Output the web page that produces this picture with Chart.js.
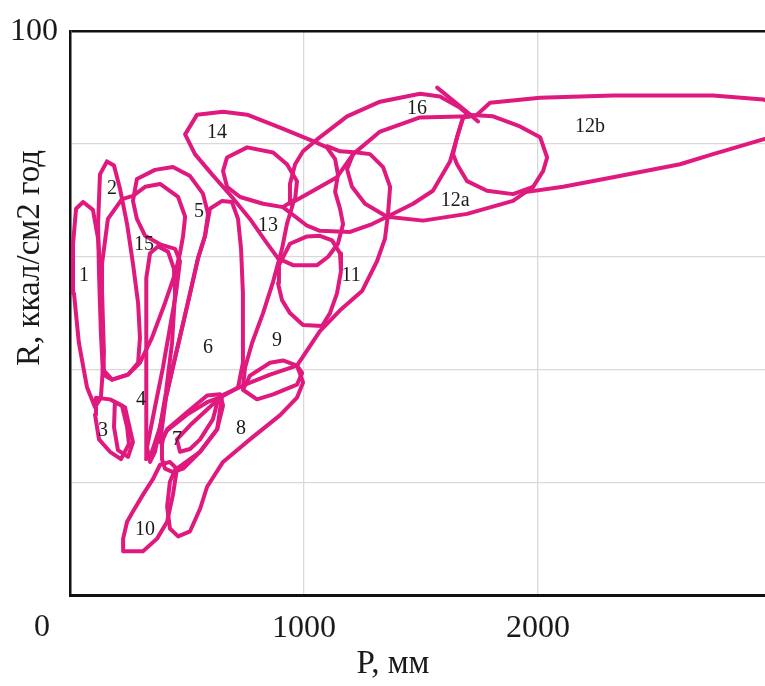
<!DOCTYPE html>
<html>
<head>
<meta charset="utf-8">
<script src="https://cdn.jsdelivr.net/npm/chart.js@4.4.1/dist/chart.umd.min.js"></script>
<style>
  html, body { margin: 0; padding: 0; background: #ffffff; overflow: hidden; }
  #wrap { width: 765px; height: 686px; }
</style>
</head>
<body>
<div id="wrap"><canvas id="c" width="765" height="686"></canvas></div>
<script>
// ---------------- DATA (P in mm, R in kcal/cm2 per year) ----------------
const xTicks = [1000, 2000];
const yTicks = [100];

const shape1P = [56, 98, 120, 137, 145, 132, 107, 73, 38, 17, 13, 26];
const shape1R = [69.7, 68.3, 63.2, 53.5, 43.0, 35.0, 33.3, 36.8, 44.7, 53.5, 62.3, 68.5];

const shape2P = [158, 188, 214, 244, 269, 291, 299, 291, 248, 180, 141, 132, 124, 120, 128];
const shape2R = [76.9, 76.2, 72.0, 65.8, 58.8, 51.8, 45.6, 41.2, 39.1, 38.2, 39.1, 46.5, 57.0, 65.8, 74.6];

const shape3P = [111, 171, 222, 244, 252, 218, 171, 124, 107];
const shape3R = [35.0, 34.7, 33.6, 29.8, 26.8, 24.1, 25.4, 27.6, 32.0];
const shape3bP = [192, 235, 269, 248, 205, 188];
const shape3bR = [34.2, 33.3, 27.1, 24.5, 25.7, 29.8];

const shape4P = [376, 419, 444, 449, 436, 410, 385, 350, 325, 325, 325, 325, 329, 342];
const shape4R = [61.8, 60.9, 57.9, 53.5, 44.7, 35.9, 29.8, 25.4, 24.1, 27.1, 35.9, 46.5, 56.2, 60.6];

const shape5P = [286, 363, 440, 513, 568, 590, 577, 547, 513, 479, 444, 410, 385, 363, 342, 329, 363, 397, 427, 453, 470, 449, 385, 321, 286, 269];
const shape5R = [73.8, 75.4, 75.9, 74.3, 71.2, 67.6, 63.7, 59.7, 53.5, 47.4, 41.2, 35.0, 29.8, 25.4, 23.6, 26.2, 33.3, 40.3, 47.4, 53.5, 59.2, 61.4, 62.2, 63.7, 66.7, 69.9];

const shape6P = [598, 650, 692, 718, 731, 739, 739, 718, 650, 586, 500, 415, 385, 410, 444, 479, 513, 547, 577];
const shape6R = [68.5, 69.9, 69.7, 66.7, 61.4, 53.5, 41.2, 36.8, 35.2, 34.2, 32.0, 29.2, 27.1, 35.0, 41.2, 47.4, 53.5, 59.7, 63.7];

const shape7P = [397, 415, 500, 586, 641, 654, 629, 556, 483, 440, 406, 393, 393];
const shape7R = [27.6, 29.4, 32.4, 35.4, 35.6, 33.6, 29.4, 25.4, 22.4, 21.8, 22.4, 24.1, 26.6];
const shape7bP = [457, 513, 586, 633, 611, 556, 513, 470];
const shape7bR = [27.6, 30.1, 32.9, 34.7, 31.2, 27.6, 25.9, 25.4];

const shape8P = [970, 996, 970, 898, 769, 654, 586, 556, 513, 462, 427, 415, 427, 449, 556, 629, 650, 748, 855];
const shape8R = [40.7, 37.7, 35.0, 31.9, 27.6, 23.6, 19.2, 15.3, 11.3, 10.4, 11.8, 15.7, 20.1, 22.2, 25.4, 29.4, 35.4, 37.3, 39.1];

const shape9P = [739, 799, 868, 970, 992, 970, 910, 855, 769];
const shape9R = [36.4, 34.7, 35.6, 37.3, 39.4, 40.7, 41.6, 41.2, 38.9];
const edge9P = [953, 927, 906, 868, 825, 778, 748, 739];
const edge9R = [69.4, 65.8, 61.4, 55.6, 50.0, 44.7, 40.3, 36.8];

const shape10P = [227, 227, 244, 269, 312, 355, 385, 427, 457, 440, 415, 372, 312];
const shape10R = [7.75, 10.0, 13.0, 14.8, 17.8, 20.6, 23.1, 23.6, 22.4, 17.8, 13.0, 10.0, 7.75];

const shape11P = [940, 1013, 1068, 1120, 1154, 1158, 1141, 1111, 1077, 996, 940, 906, 889, 893];
const shape11R = [62.3, 63.6, 63.7, 62.9, 60.6, 57.4, 53.5, 50.0, 47.7, 47.9, 50.0, 52.3, 55.3, 58.5];
const edge11P = [970, 1068, 1154, 1248, 1312, 1346, 1359, 1368, 1338, 1282, 1227, 1154, 1098];
const edge11R = [40.7, 46.8, 50.5, 53.9, 59.2, 63.2, 67.6, 72.4, 75.9, 78.2, 78.5, 78.7, 79.6];

const arc12aP = [1210, 1184, 1205, 1261, 1355];
const arc12aR = [78.2, 75.5, 72.4, 69.4, 67.1];
const edge12aP = [1355, 1466, 1551, 1624, 1654, 1680, 1710];
const edge12aR = [67.1, 69.4, 71.7, 76.9, 81.2, 84.7, 84.9];
const base12aP = [1355, 1509, 1697, 1893, 1979];
const base12aR = [67.1, 66.4, 67.6, 69.9, 72.4];
const ring12P = [1697, 1808, 1923, 2009, 2039, 2022, 1979, 1893, 1782, 1697, 1654, 1637, 1654, 1680];
const ring12R = [85.2, 84.9, 83.1, 81.2, 77.6, 75.2, 72.4, 71.1, 71.7, 73.4, 76.4, 78.2, 81.2, 84.7];
const shape12bP = [1739, 1795, 2009, 2321, 2748, 2962, 3120, 3120, 2962, 2748, 2607, 2321, 2107, 1953];
const shape12bR = [85.2, 87.3, 88.2, 88.6, 88.6, 87.9, 85.6, 83.1, 80.8, 78.2, 76.4, 74.1, 72.4, 71.5];

const shape13P = [654, 671, 757, 868, 927, 970, 962, 910, 825, 727, 671];
const shape13R = [75.2, 77.6, 79.4, 78.5, 76.4, 73.4, 70.2, 68.8, 69.4, 70.6, 72.4];
const link13P = [910, 1013, 1068, 1197, 1291, 1355];
const link13R = [68.8, 65.5, 64.6, 64.4, 65.8, 67.1];

const shape14P = [492, 543, 654, 757, 898, 1039, 1098, 1133, 1145, 1133, 1154, 1167, 1145, 1103, 1056, 953, 889, 833, 769, 692, 607, 534];
const shape14R = [81.7, 85.2, 85.7, 85.2, 82.9, 80.5, 79.4, 77.3, 74.6, 71.5, 68.5, 65.8, 62.3, 60.0, 58.5, 58.5, 59.7, 62.9, 66.7, 70.6, 74.6, 78.2];

const shape15P = [162, 222, 269, 321, 385, 462, 492, 483, 470, 449, 406, 350, 299, 248, 180, 145, 137, 137];
const shape15R = [66.7, 70.2, 70.8, 72.4, 72.9, 70.6, 67.1, 63.6, 60.6, 57.0, 51.8, 45.6, 41.2, 39.1, 38.2, 39.8, 48.2, 58.8];

const shape16P = [1710, 1667, 1581, 1496, 1325, 1184, 1056, 996, 962, 940, 940, 1039, 1141, 1210, 1325, 1496];
const shape16R = [84.9, 86.4, 88.4, 88.9, 87.5, 84.9, 80.8, 78.7, 76.4, 72.9, 69.4, 71.7, 74.1, 78.2, 82.2, 84.7];
const tail16P = [1569, 1710, 1744];
const tail16R = [90.0, 85.2, 84.0];

const labelText = ['1', '2', '3', '4', '5', '6', '7', '8', '9', '10', '11', '12a', '12b', '13', '14', '15', '16'];
const labelP = [60, 180, 141, 303, 551, 590, 457, 731, 885, 321, 1201, 1646, 2222, 846, 628, 316, 1483];
const labelR = [56.7, 72.0, 29.2, 34.7, 68.0, 43.8, 27.6, 29.4, 45.1, 11.6, 56.7, 69.9, 83.1, 65.5, 82.0, 62.1, 86.3];

// [P, R, closed]
const contours = [
  [shape1P, shape1R, true], [shape2P, shape2R, true], [shape3P, shape3R, true], [shape3bP, shape3bR, true],
  [shape4P, shape4R, true], [shape5P, shape5R, true], [shape6P, shape6R, true], [shape7P, shape7R, true],
  [shape7bP, shape7bR, true], [shape8P, shape8R, true], [shape9P, shape9R, true], [edge9P, edge9R, false],
  [shape10P, shape10R, true], [shape11P, shape11R, true], [edge11P, edge11R, false],
  [arc12aP, arc12aR, false], [edge12aP, edge12aR, false], [base12aP, base12aR, false],
  [ring12P, ring12R, true], [shape12bP, shape12bR, false],
  [shape13P, shape13R, true], [link13P, link13R, false], [shape14P, shape14R, true],
  [shape15P, shape15R, true], [shape16P, shape16R, true], [tail16P, tail16R, false]
];

// ---------------- CHART ----------------
const LINE = '#E0197F';
const SERIF = '"Liberation Serif", "Times New Roman", "DejaVu Serif", serif';

const datasets = contours.map(([P, R, closed]) => {
  const pts = P.map((p, i) => ({ x: p, y: R[i] }));
  if (closed) pts.push({ x: P[0], y: R[0] });
  return {
    data: pts, showLine: true, borderColor: LINE, backgroundColor: LINE,
    borderWidth: 4, pointRadius: 0, pointHoverRadius: 0, fill: false, tension: 0,
    borderJoinStyle: 'round', borderCapStyle: 'round'
  };
});

const textPlugin = {
  id: 'texts',
  afterDraw(chart) {
    const { ctx, scales } = chart;
    ctx.save();
    ctx.fillStyle = '#1a1a1a';
    ctx.textAlign = 'center';
    ctx.textBaseline = 'middle';
    ctx.font = '20px ' + SERIF;
    labelText.forEach((t, i) => {
      ctx.fillText(t, scales.x.getPixelForValue(labelP[i]), scales.y.getPixelForValue(labelR[i]));
    });
    ctx.font = '32px ' + SERIF;
    ctx.fillText('0', 42, 628);
    ctx.font = '33px ' + SERIF;
    ctx.fillText('P, мм', 393, 664);
    ctx.translate(30, 258);
    ctx.rotate(-Math.PI / 2);
    ctx.fillText('R, ккал/см2 год', 0, 0);
    ctx.restore();
  }
};

new Chart(document.getElementById('c'), {
  type: 'scatter',
  data: { datasets },
  plugins: [textPlugin],
  options: {
    responsive: false,
    animation: false,
    devicePixelRatio: 1,
    layout: { padding: { top: 26, right: 0, left: 0, bottom: 0 } },
    plugins: { legend: { display: false }, tooltip: { enabled: false } },
    scales: {
      x: {
        type: 'linear', min: 0, max: 2970,
        afterFit: s => { s.height = 91; },
        afterBuildTicks: s => { s.ticks = [0].concat(xTicks).map(v => ({ value: v })); },
        ticks: {
          callback: v => (xTicks.includes(v) ? String(v) : ''),
          font: { family: SERIF, size: 32 }, color: '#1a1a1a', padding: 14,
          maxRotation: 0, autoSkip: false
        },
        grid: {
          color: c => (c.tick && c.tick.value === 0 ? 'rgba(0,0,0,0)' : '#d9d9d9'),
          lineWidth: 1.3, drawTicks: false
        },
        border: { color: '#111111', width: 3 }
      },
      y: {
        type: 'linear', min: 0, max: 100,
        afterFit: s => { s.width = 70; },
        ticks: {
          stepSize: 20,
          callback: v => (yTicks.includes(v) ? String(v) : ''),
          font: { family: SERIF, size: 32 }, color: '#1a1a1a', padding: 12
        },
        grid: {
          color: c => (c.tick && c.tick.value === 100 ? '#111111' : (c.tick && c.tick.value === 0 ? 'rgba(0,0,0,0)' : '#d9d9d9')),
          lineWidth: c => (c.tick && c.tick.value === 100 ? 2.5 : 1.3),
          drawTicks: false
        },
        border: { color: '#111111', width: 2.5 }
      }
    }
  }
});
</script>
</body>
</html>
